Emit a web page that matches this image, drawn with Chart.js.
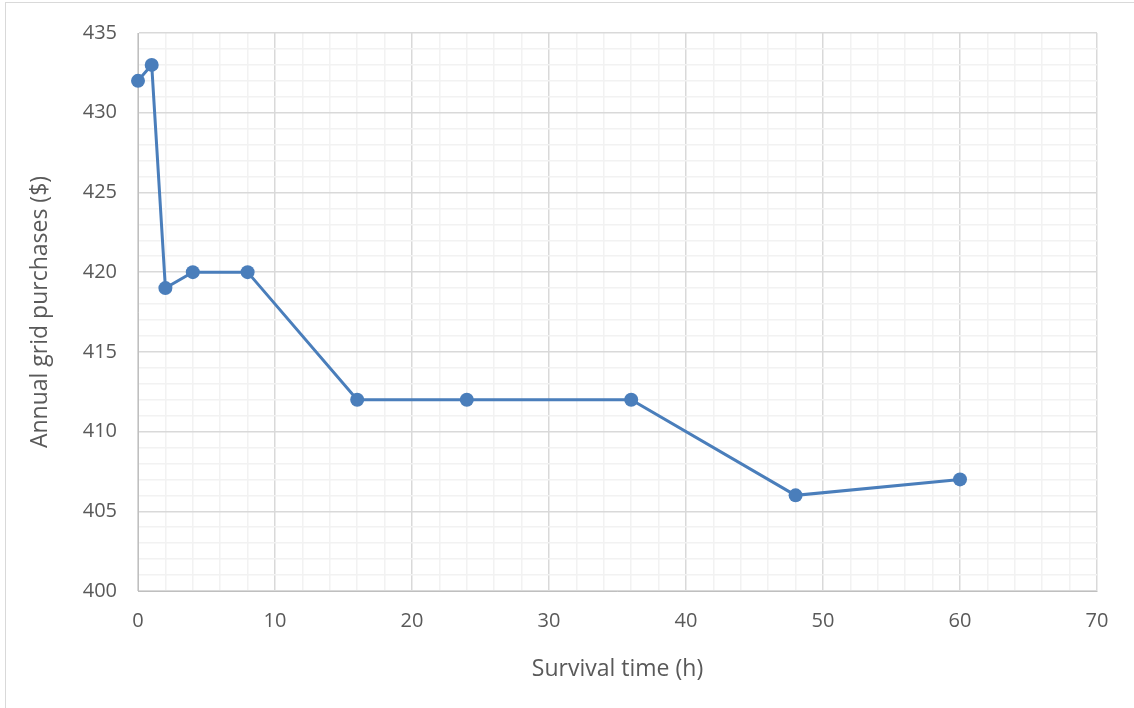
<!DOCTYPE html>
<html>
<head>
<meta charset="utf-8">
<script src="https://cdn.jsdelivr.net/npm/chart.js@4.4.1/dist/chart.umd.min.js"></script>
<style>
  html, body { margin: 0; padding: 0; background: #fff; }
  #wrap { position: relative; width: 1134px; height: 708px; }
  #frame { position: absolute; left: 5px; top: 2px; right: 0; bottom: 0;
           border-left: 1px solid #d9d9d9; border-top: 1px solid #d9d9d9; pointer-events: none; }
  canvas { position: absolute; left: 0; top: 0; }
</style>
</head>
<body>
<div id="wrap">
  <canvas id="chart" width="1134" height="708"></canvas>
  <div id="frame"></div>
</div>
<script>
// survival time (h) vs annual grid purchases ($)
const survivalHours = [0, 1, 2, 4, 8, 16, 24, 36, 48, 60];
const gridPurchases = [432, 433, 419, 420, 420, 412, 412, 412, 406, 407];

const xMin = 0, xMax = 70, xMajor = 10, xMinor = 2;
const yMin = 400, yMax = 435, yMajor = 5, yMinor = 1;

const textColor = "#595959";
const majorGrid = "#d9d9d9";
const minorGrid = "#f2f2f2";
const lineBlue = "#4a7ebb";

const isMajor = (v, step) => Math.abs(v / step - Math.round(v / step)) < 1e-6;

const ctx = document.getElementById("chart").getContext("2d");
new Chart(ctx, {
  type: "line",
  data: {
    datasets: [
      {
        data: survivalHours.map((h, i) => ({ x: h, y: gridPurchases[i] })),
        borderColor: lineBlue,
        backgroundColor: lineBlue,
        borderWidth: 3,
        pointRadius: 7,
        pointBorderWidth: 0,
        tension: 0,
        fill: false,
        clip: false,
      },
    ],
  },
  options: {
    responsive: false,
    animation: false,
    layout: { padding: { top: 32, right: 37, left: 0, bottom: 0 } },
    plugins: { legend: { display: false }, tooltip: { enabled: false } },
    scales: {
      x: {
        type: "linear",
        min: xMin,
        max: xMax,
        afterFit: (s) => { s.height = 117; },
        border: { color: "#bfbfbf", width: 1 },
        grid: {
          drawTicks: false,
          color: (c) => (isMajor(c.tick.value, xMajor) ? majorGrid : minorGrid),
          lineWidth: 1.5,
        },
        ticks: {
          stepSize: xMinor,
          autoSkip: false,
          maxRotation: 0,
          padding: 18,
          color: textColor,
          font: { family: "'Open Sans', sans-serif", size: 20 },
          callback: (v) => (isMajor(v, xMajor) ? v : ""),
        },
        title: {
          display: true,
          text: "Survival time (h)",
          color: textColor,
          font: { family: "'Open Sans', sans-serif", size: 23 },
          padding: { top: 0, bottom: 25 },
        },
      },
      y: {
        min: yMin,
        max: yMax,
        afterFit: (s) => { s.width = 138; },
        border: { color: "#bfbfbf", width: 1 },
        grid: {
          drawTicks: false,
          color: (c) => (isMajor(c.tick.value, yMajor) ? majorGrid : minorGrid),
          lineWidth: 1.5,
        },
        ticks: {
          stepSize: yMinor,
          autoSkip: false,
          padding: 21,
          color: textColor,
          font: { family: "'Open Sans', sans-serif", size: 20 },
          callback: (v) => (isMajor(v, yMajor) ? v : ""),
        },
        title: {
          display: true,
          text: "Annual grid purchases ($)",
          color: textColor,
          font: { family: "'Open Sans', sans-serif", size: 23 },
          padding: { top: 27, bottom: 0 },
        },
      },
    },
  },
});
</script>
</body>
</html>
